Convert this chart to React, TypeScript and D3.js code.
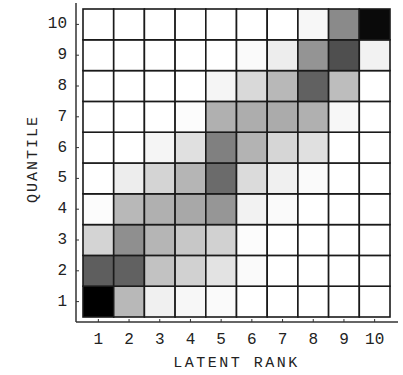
import React from 'react';
import * as d3 from 'd3';

// latent rank (x) and quantile (y) categories
const ranks = [1, 2, 3, 4, 5, 6, 7, 8, 9, 10];
const quantiles = [1, 2, 3, 4, 5, 6, 7, 8, 9, 10];

// cell intensity (0 = white, 100 = black), one row per quantile, top row first
const rowQ10 = [0, 0, 0, 0, 0, 0, 0, 3, 46, 96];
const rowQ9 = [0, 0, 0, 0, 0, 2, 7, 42, 69, 5];
const rowQ8 = [0, 0, 0, 0, 4, 15, 28, 62, 26, 0];
const rowQ7 = [0, 0, 0, 1, 31, 32, 33, 31, 3, 0];
const rowQ6 = [0, 0, 4, 12, 50, 30, 16, 12, 0, 0];
const rowQ5 = [0, 7, 17, 29, 58, 14, 6, 2, 0, 0];
const rowQ4 = [1, 28, 31, 34, 41, 5, 2, 0, 0, 0];
const rowQ3 = [17, 44, 29, 22, 18, 1, 0, 0, 0, 0];
const rowQ2 = [63, 62, 24, 18, 11, 2, 0, 0, 0, 0];
const rowQ1 = [100, 28, 6, 3, 2, 0, 0, 0, 0, 0];

const rows = [rowQ1, rowQ2, rowQ3, rowQ4, rowQ5, rowQ6, rowQ7, rowQ8, rowQ9, rowQ10];

const xTitle = 'LATENT RANK';
const yTitle = 'QUANTILE';

const width = 403;
const height = 375;
const font = '"Liberation Mono", "DejaVu Sans Mono", monospace';

const App = () => {
  const grid = { left: 83, right: 390, top: 9, bottom: 317 };
  const axisX = 76; // left axis line
  const axisY = 322; // bottom axis line

  const x = d3.scaleBand<number>().domain(ranks).range([grid.left, grid.right]);
  const y = d3.scaleBand<number>().domain([...quantiles].reverse()).range([grid.top, grid.bottom]);
  const color = d3.scaleLinear<string>().domain([0, 100]).range(['#ffffff', '#000000']);

  const cells = quantiles.flatMap((q, i) =>
    ranks.map((r, j) => ({ q, r, v: rows[i][j] }))
  );

  return (
    <svg
      width={width}
      height={height}
      style={{ position: 'absolute', left: 0, top: 0, background: '#fff' }}
    >
      {/* cells */}
      {cells.map((c) => (
        <rect
          key={`${c.q}-${c.r}`}
          x={x(c.r)}
          y={y(c.q)}
          width={x.bandwidth()}
          height={y.bandwidth()}
          fill={color(c.v)}
          stroke="#1a1a1a"
          strokeWidth={1.6}
        />
      ))}

      {/* axes */}
      <line x1={axisX} x2={axisX} y1={3} y2={axisY} stroke="#333" strokeWidth={1.5} />
      <line x1={axisX} x2={398} y1={axisY} y2={axisY} stroke="#333" strokeWidth={1.5} />

      {quantiles.map((q) => {
        const cy = (y(q) ?? 0) + y.bandwidth() / 2;
        return (
          <g key={`yt-${q}`}>
            <line x1={axisX} x2={axisX + 3} y1={cy} y2={cy} stroke="#333" strokeWidth={1} />
            <text
              x={67}
              y={cy}
              textAnchor="end"
              dominantBaseline="central"
              fontFamily={font}
              fontSize={16}
              fill="#222"
            >
              {q}
            </text>
          </g>
        );
      })}

      {ranks.map((r) => {
        const cx = (x(r) ?? 0) + x.bandwidth() / 2;
        return (
          <g key={`xt-${r}`}>
            <line x1={cx} x2={cx} y1={axisY} y2={axisY - 3} stroke="#333" strokeWidth={1} />
            <text
              x={cx}
              y={344}
              textAnchor="middle"
              fontFamily={font}
              fontSize={16}
              fill="#222"
            >
              {r}
            </text>
          </g>
        );
      })}

      {/* axis titles */}
      <text
        x={(grid.left + grid.right) / 2}
        y={367}
        textAnchor="middle"
        fontFamily={font}
        fontSize={15}
        letterSpacing={2.5}
        fill="#222"
      >
        {xTitle}
      </text>
      <text
        transform={`translate(37, ${159}) rotate(-90)`}
        textAnchor="middle"
        fontFamily={font}
        fontSize={15}
        letterSpacing={2}
        fill="#222"
      >
        {yTitle}
      </text>
    </svg>
  );
};

export default App;
